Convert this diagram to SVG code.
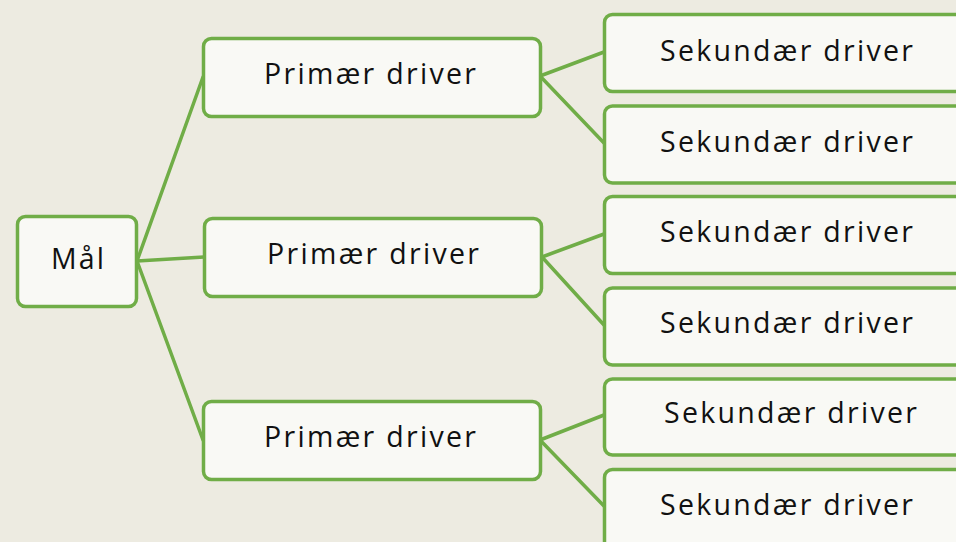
<svg xmlns="http://www.w3.org/2000/svg" width="956" height="542" viewBox="0 0 956 542">
<style>
.box{fill:#F9F9F5;stroke:#70AD47;stroke-width:3.5}
.lbl{font-family:"Open Sans","Noto Sans","Liberation Sans",sans-serif;font-size:28.5px;font-weight:500;fill:#111;}
.con line{stroke:#70AD47;stroke-width:3.5;stroke-linecap:round}
</style>
<rect width="956" height="542" fill="#EDEBE1"/>
<g class="con" id="connectors">
<line x1="137" y1="261" x2="203" y2="77"/>
<line x1="137" y1="261" x2="204" y2="257"/>
<line x1="137" y1="261" x2="203" y2="440"/>
<line x1="540" y1="76" x2="604" y2="52"/>
<line x1="540" y1="76" x2="604" y2="143"/>
<line x1="542" y1="257" x2="604" y2="234"/>
<line x1="542" y1="257" x2="604" y2="325"/>
<line x1="540" y1="440" x2="604" y2="415"/>
<line x1="540" y1="440" x2="604" y2="506"/>
</g>
<g id="mal"><rect class="box" x="17.5" y="216.5" width="119" height="90" rx="8"/><text class="lbl" x="51" y="269" textLength="53" lengthAdjust="spacing">Mål</text></g>
<g id="p1"><rect class="box" x="203.5" y="38.5" width="337" height="78" rx="8"/><text class="lbl" x="264" y="84" textLength="212" lengthAdjust="spacing">Primær driver</text></g>
<g id="p2"><rect class="box" x="204.5" y="218.5" width="337" height="78" rx="8"/><text class="lbl" x="267" y="264" textLength="212" lengthAdjust="spacing">Primær driver</text></g>
<g id="p3"><rect class="box" x="203.5" y="401.5" width="337" height="78" rx="8"/><text class="lbl" x="264" y="447" textLength="212" lengthAdjust="spacing">Primær driver</text></g>
<g id="s1"><rect class="box" x="604.5" y="14.5" width="400" height="77" rx="8"/><text class="lbl" x="660" y="61" textLength="253" lengthAdjust="spacing">Sekundær driver</text></g>
<g id="s2"><rect class="box" x="604.5" y="106" width="400" height="77" rx="8"/><text class="lbl" x="660" y="152" textLength="253" lengthAdjust="spacing">Sekundær driver</text></g>
<g id="s3"><rect class="box" x="604.5" y="196.5" width="400" height="77" rx="8"/><text class="lbl" x="660" y="242" textLength="253" lengthAdjust="spacing">Sekundær driver</text></g>
<g id="s4"><rect class="box" x="604.5" y="288" width="400" height="77" rx="8"/><text class="lbl" x="660" y="333" textLength="253" lengthAdjust="spacing">Sekundær driver</text></g>
<g id="s5"><rect class="box" x="604.5" y="379" width="400" height="76" rx="8"/><text class="lbl" x="664" y="423" textLength="253" lengthAdjust="spacing">Sekundær driver</text></g>
<g id="s6"><rect class="box" x="604.5" y="469.5" width="400" height="90" rx="8"/><text class="lbl" x="660" y="515" textLength="253" lengthAdjust="spacing">Sekundær driver</text></g>
</svg>
